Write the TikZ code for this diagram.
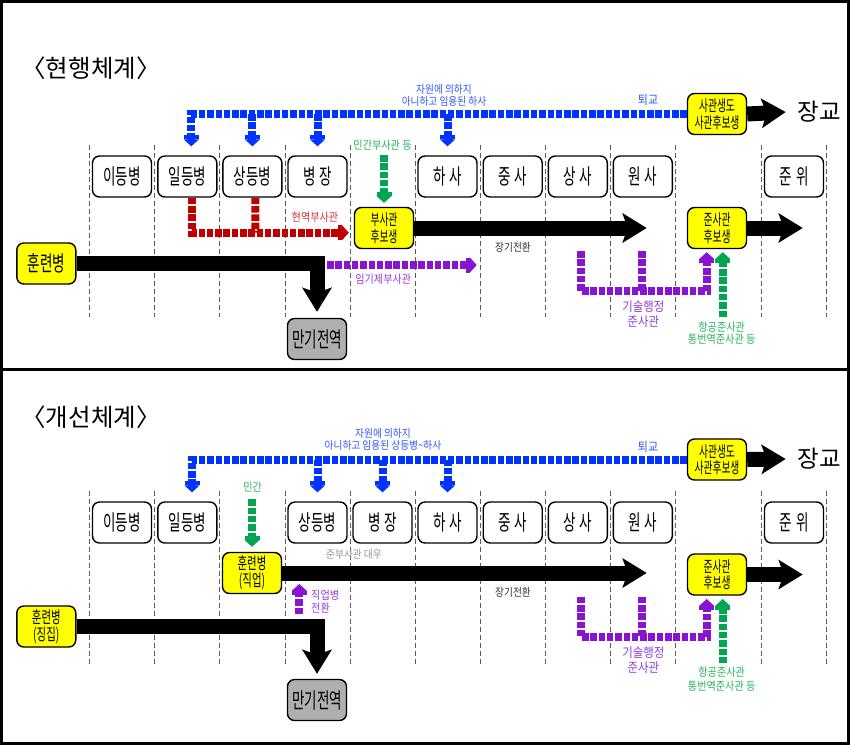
\documentclass[tikz,border=0pt]{standalone}
\usepackage{fontspec}
\setmainfont{Noto Sans CJK KR}
\newfontfamily\kr{Noto Sans CJK KR}
\newfontfamily\krc[FakeStretch=0.63]{Noto Sans CJK KR}
\newfontfamily\krs[FakeStretch=0.88]{Noto Sans CJK KR}
\usetikzlibrary{arrows.meta}
\newcommand\fsz[2]{\fontsize{#1}{#2}\selectfont}
\definecolor{cblue}{RGB}{0,51,255}
\definecolor{cbluet}{RGB}{51,85,255}
\definecolor{cred}{RGB}{192,0,0}
\definecolor{credt}{RGB}{215,50,50}
\definecolor{cgreen}{RGB}{0,166,80}
\definecolor{cgreent}{RGB}{40,180,90}
\definecolor{cpurple}{RGB}{136,20,210}
\definecolor{cpurplet}{RGB}{150,60,225}
\definecolor{cgray}{RGB}{175,175,175}
\definecolor{cyel}{RGB}{255,255,0}
\definecolor{cdark}{RGB}{50,50,50}
\definecolor{cltgray}{RGB}{150,150,150}
\tikzset{
  rbox/.style={draw, line width=1.4pt, rounded corners=7pt, fill=white,
    minimum width=59pt, minimum height=41pt, inner sep=0pt, align=center,
    font=\krc\fsz{21.5}{22}},
  ybox/.style={rbox, fill=cyel, font=\krc\fsz{15.5}{16.5}},
  gbox/.style={rbox, fill=cgray},
  colline/.style={draw=black!65, line width=0.8pt, dash pattern=on 5pt off 3pt},
  dashar/.style={line width=8pt, dash pattern=on 6.5pt off 1.8pt, line join=miter,
    -{Rectangle[length=4pt,width=15pt] Triangle[length=7pt,width=15pt]}},
  dashseg/.style={line width=8pt, dash pattern=on 6.5pt off 1.8pt, line join=miter},
  bigar/.style={line width=15pt, line join=miter,
    -{Stealth[length=24pt,width=29pt,inset=5pt]}},
  lbl/.style={font=\krs\fsz{11.5}{12}, align=center, inner sep=0pt},
  titletxt/.style={font=\kr\fsz{24.5}{25}, inner sep=0pt},
  bigtxt/.style={font=\kr\fsz{23.5}{24}, inner sep=0pt}
}
\begin{document}
\begin{tikzpicture}[x=1pt,y=-1pt]
\useasboundingbox (0,0) rectangle (850,745);
\fill[white] (0,0) rectangle (850,745);
\draw[line width=3pt] (1.5,1.5) rectangle (848.5,743.5);
\draw[line width=3pt] (0,369.5) -- (850,369.5);

\foreach \x in {89.5,154.7,219.8,285,350,415,480,545.3,610.3,675.3,761.7,826} {
  \draw[colline] (\x,145) -- (\x,317);
  \draw[colline] (\x,491) -- (\x,664);
}

% ================= Panel 1 =================
\node[titletxt] (p1t) at (91,68) {〈현행체계〉};
\node[rbox] (p1r1) at (122,176.5) {이등병};
\node[rbox] (p1r2) at (187.3,176.5) {일등병};
\node[rbox] (p1r3) at (252.4,176.5) {상등병};
\node[rbox] (p1r4) at (317.5,176.5) {병\hspace{4pt}장};
\node[rbox] (p1r6) at (447.5,176.5) {하\hspace{4pt}사};
\node[rbox] (p1r7) at (512.7,176.5) {중\hspace{4pt}사};
\node[rbox] (p1r8) at (577.8,176.5) {상\hspace{4pt}사};
\node[rbox] (p1r9) at (642.8,176.5) {원\hspace{4pt}사};
\node[rbox] (p1r11) at (794,176.5) {준\hspace{4pt}위};
\node[ybox] (p1sg) at (717,114) {사관생도\\사관후보생};
\node[bigtxt] (p1jg) at (819,112) {장교};
\node[ybox, font=\krc\fsz{21.5}{22}] (p1hun) at (46.3,263.5) {훈련병};
\node[gbox] (p1man) at (317,339) {만기전역};
\node[ybox] (p1bu) at (384,228) {부사관\\후보생};
\node[ybox] (p1jun) at (717,228) {준사관\\후보생};

\node[lbl, font=\krs\fsz{11}{11.5}, text=cbluet] (p1bl) at (444,95.5) {자원에 의하지\\아니하고 임용된 하사};
\node[lbl, font=\krs\fsz{12.5}{13}, text=cbluet] (p1tg) at (648,100) {퇴교};
\node[lbl, text=cgreent] (p1gl) at (382.5,145.3) {민간부사관 등};
\node[lbl, text=credt] (p1rl) at (315,217.3) {현역부사관};
\node[lbl, font=\krs\fsz{11}{11}, text=cdark] (p1jh) at (513,247.3) {장기전환};
\node[lbl, text=cpurplet] (p1il) at (383.3,279) {임기제부사관};
\node[lbl, font=\krs\fsz{13}{15}, text=cpurplet] (p1gs) at (643.3,314.2) {기술행정\\준사관};
\node[lbl, font=\krs\fsz{11.5}{12.7}, text=cgreent] (p1hg) at (721.7,333) {항공준사관\\통번역준사관 등};

\coordinate (p1gtop) at (384,155);
\coordinate (p1end1) at (646.7,228);
\coordinate (p1end2) at (802.7,228);
\coordinate (p1imgiS) at (327,265);
\coordinate (p1imgiE) at (476.7,265);
\coordinate (p1red) at (255.5,232.7);
\coordinate (p1pa) at (580.5,251);
\coordinate (p1pb) at (642,251);
\coordinate (p1pc) at (706.7,291);
\coordinate (p1gb) at (722.7,317);

% blue
\draw[dashar, cblue] (p1sg.west) -| ([xshift=4pt,yshift=9pt]p1r2.north);
\draw[dashar, cblue] (p1r3.north |- p1sg.west) -- ([yshift=9pt]p1r3.north);
\draw[dashar, cblue] (p1r4.north |- p1sg.west) -- ([yshift=9pt]p1r4.north);
\draw[dashar, cblue] (p1r6.north |- p1sg.west) -- ([yshift=9pt]p1r6.north);
% red
\draw[dashar, cred] ([xshift=4.7pt]p1r2.south) |- ([xshift=-5pt,yshift=-4.7pt]p1bu.west);
\draw[dashseg, cred] ([xshift=3pt]p1r3.south) -- (p1red);
% green
\draw[dashar, cgreen] (p1gtop) -- ([yshift=4pt]p1bu.north);
\draw[dashar, cgreen] (p1gb) -- ([xshift=5.7pt,yshift=-3pt]p1jun.south);
% purple
\draw[dashar, cpurple] (p1imgiS) -- (p1imgiE);
\draw[dashar, cpurple] (p1pa) |- (p1pc) -- ([xshift=-10.3pt,yshift=-3pt]p1jun.south);
\draw[dashseg, cpurple] (p1pb) -- (p1pb |- p1pc);
% black
\draw[bigar] (p1hun.east) -| ([yshift=6pt]p1man.north);
\draw[bigar] (p1bu.east) -- (p1end1);
\draw[bigar] (p1jun.east) -- (p1end2);
\draw[bigar] (p1sg.east) -- ([xshift=-11.5pt]p1jg.west);

% ================= Panel 2 =================
\node[titletxt] (p2t) at (91,416.7) {〈개선체계〉};
\node[rbox] (p2r1) at (122,522.5) {이등병};
\node[rbox] (p2r2) at (187.3,522.5) {일등병};
\node[rbox] (p2r4) at (317.5,522.5) {상등병};
\node[rbox] (p2r5) at (382.5,522.5) {병\hspace{4pt}장};
\node[rbox] (p2r6) at (447.5,522.5) {하\hspace{4pt}사};
\node[rbox] (p2r7) at (512.7,522.5) {중\hspace{4pt}사};
\node[rbox] (p2r8) at (577.8,522.5) {상\hspace{4pt}사};
\node[rbox] (p2r9) at (642.8,522.5) {원\hspace{4pt}사};
\node[rbox] (p2r11) at (794,522.5) {준\hspace{4pt}위};
\node[ybox] (p2sg) at (717,459.5) {사관생도\\사관후보생};
\node[bigtxt] (p2jg) at (819,459) {장교};
\node[ybox, font=\krc\fsz{16.5}{17}] (p2hunj) at (252,573) {훈련병\\(직업)};
\node[ybox, font=\krc\fsz{16.5}{17}] (p2hunc) at (46.3,626.5) {훈련병\\(징집)};
\node[gbox] (p2man) at (317,700) {만기전역};
\node[ybox] (p2jun) at (717,574.5) {준사관\\후보생};

\node[lbl, font=\krs\fsz{11}{12}, text=cbluet] (p2bl) at (383,439.3) {자원에 의하지\\아니하고 임용된 상등병\textasciitilde 하사};
\node[lbl, font=\krs\fsz{12.5}{13}, text=cbluet] (p2tg) at (648,447.3) {퇴교};
\node[lbl, text=cgreent] (p2gl) at (252.7,487.3) {민간};
\node[lbl, font=\krs\fsz{11}{11}, text=cltgray] (p2dw) at (354,554) {준부사관 대우};
\node[lbl, font=\krs\fsz{11}{11}, text=cdark] (p2jh) at (513,592.3) {장기전환};
\node[lbl, font=\krs\fsz{11.5}{13.3}, text=cpurplet, align=left, anchor=west] (p2jl) at (311,601.7) {직업병\\전환};
\node[lbl, font=\krs\fsz{13}{15}, text=cpurplet] (p2gs) at (643.3,660.2) {기술행정\\준사관};
\node[lbl, font=\krs\fsz{11.5}{13.4}, text=cgreent] (p2hg) at (721.7,679) {항공준사관\\통번역준사관 등};

\coordinate (p2gtop) at (252,499.3);
\coordinate (p2end1) at (646.7,573);
\coordinate (p2end2) at (802.7,574.5);
\coordinate (p2ja) at (299.3,614);
\coordinate (p2jb) at (299.3,584);
\coordinate (p2pa) at (580.5,596.7);
\coordinate (p2pb) at (642,596.7);
\coordinate (p2pc) at (706.7,636.7);
\coordinate (p2gb) at (722.7,663.3);

% blue
\draw[dashar, cblue] (p2sg.west) -| ([xshift=4.7pt,yshift=9pt]p2r2.north);
\draw[dashar, cblue] (p2r4.north |- p2sg.west) -- ([yshift=9pt]p2r4.north);
\draw[dashar, cblue] (p2r5.north |- p2sg.west) -- ([yshift=9pt]p2r5.north);
\draw[dashar, cblue] (p2r6.north |- p2sg.west) -- ([yshift=9pt]p2r6.north);
% green
\draw[dashar, cgreen] (p2gtop) -- ([yshift=5pt]p2hunj.north);
\draw[dashar, cgreen] (p2gb) -- ([xshift=5.7pt,yshift=-3.3pt]p2jun.south);
% purple
\draw[dashar, cpurple] (p2ja) -- (p2jb);
\draw[dashar, cpurple] (p2pa) |- (p2pc) -- ([xshift=-10.3pt,yshift=-3.3pt]p2jun.south);
\draw[dashseg, cpurple] (p2pb) -- (p2pb |- p2pc);
% black
\draw[bigar] (p2hunj.east) -- (p2end1);
\draw[bigar] (p2hunc.east) -| ([yshift=5pt]p2man.north);
\draw[bigar] (p2jun.east) -- (p2end2);
\draw[bigar] (p2sg.east) -- ([xshift=-11.5pt]p2jg.west);
\end{tikzpicture}
\end{document}
